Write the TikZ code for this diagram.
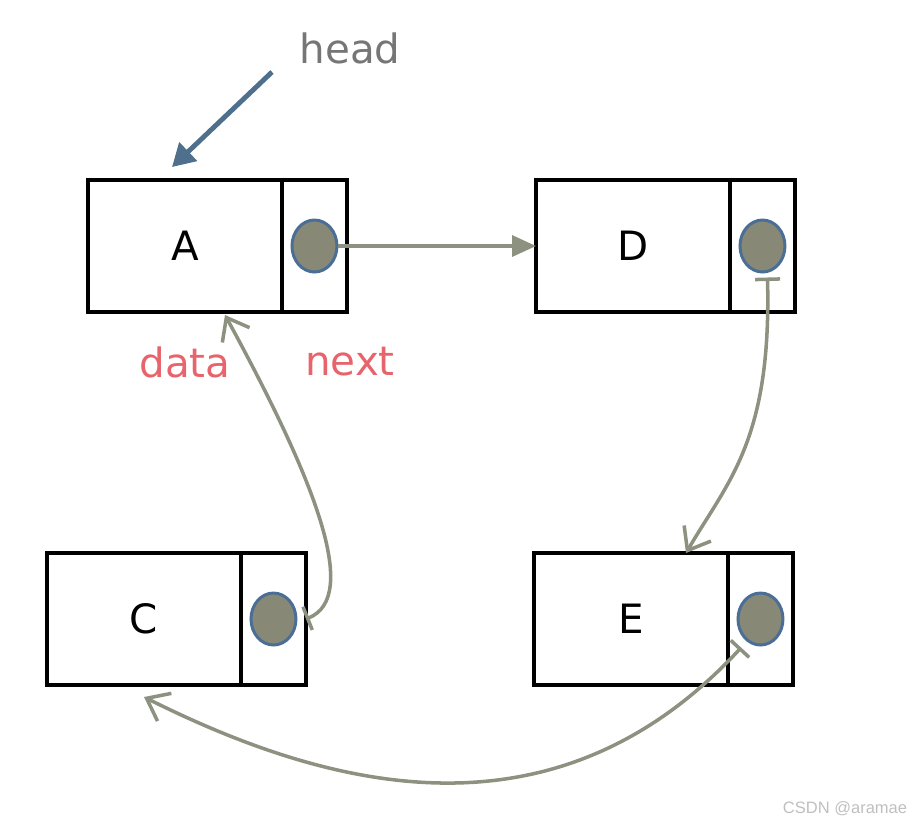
\documentclass[tikz,border=0pt]{standalone}
\usepackage{fontspec}
\setmainfont{DejaVu Sans}
\newfontfamily\wmfont{Liberation Sans}
\usepackage{xcolor}
\usetikzlibrary{arrows.meta, positioning, shapes.geometric}

\definecolor{linkgray}{RGB}{140,145,128}
\definecolor{ptrfill}{RGB}{135,136,118}
\definecolor{ptrblue}{RGB}{74,110,150}
\definecolor{headblue}{RGB}{79,112,140}
\definecolor{headgray}{RGB}{118,118,118}
\definecolor{fieldred}{RGB}{232,100,108}

\begin{document}
\begin{tikzpicture}[
  x=0.02cm, y=-0.02cm,
  datacell/.style={rectangle, draw, line width=2pt, outer sep=0pt, inner sep=0pt, minimum width=3.88cm, minimum height=2.64cm, font=\fontsize{23}{28}\selectfont},
  nextcell/.style={datacell, minimum width=1.3cm},
  ptr/.style={ellipse, draw=ptrblue, fill=ptrfill, line width=1.7pt, inner sep=0pt, minimum width=0.9cm, minimum height=1.04cm},
  link/.style={draw=linkgray, line width=2pt, {Bar[width=0.5cm]}-{Straight Barb[length=0.4cm,width=0.62cm]}},
  headarrow/.style={draw=headblue, line width=2.8pt, -{Triangle[length=0.45cm,width=0.5cm]}},
  tag/.style={font=\fontsize{23}{28}\selectfont, text=fieldred},
]
  \useasboundingbox (0,0) rectangle (911,823);

  \node[datacell] (A) at (185,246) {A};
  \node[nextcell, right=0pt of A] (Anext) {};
  \node[ptr] (Aptr) at (Anext) {};

  \node[datacell] (D) at (633,246) {D};
  \node[nextcell, right=0pt of D] (Dnext) {};
  \node[ptr] (Dptr) at (Dnext) {};

  \node[datacell] (C) at (144,619) {C};
  \node[nextcell, right=0pt of C] (Cnext) {};
  \node[ptr] (Cptr) at (Cnext) {};

  \node[datacell] (E) at (631,619) {E};
  \node[nextcell, right=0pt of E] (Enext) {};
  \node[ptr] (Eptr) at (Enext) {};

  \node[font=\fontsize{23}{28}\selectfont, text=headgray] (head) at (350,48) {head};
  \node[tag] (data) at (185,362) {data};
  \node[tag] (next) at (350,362) {next};
  \node[font=\wmfont\fontsize{9.4}{11}\selectfont, text=black!25] (wm) at (845,809) {CSDN @aramae};

  \coordinate (hstart) at (272,72);
  \draw[headarrow] (hstart) -- ([xshift=-0.26cm,yshift=0.26cm]A.north);

  \draw[draw=linkgray, line width=2pt, -{Triangle[length=0.48cm,width=0.42cm]}] (Aptr) -- (D);
  \draw[link] ([xshift=0.1cm,yshift=-0.08cm]Dptr.south) .. controls +(4,163) and +(42,-72) .. ([xshift=1.1cm]E.north);
  \draw[link] ([xshift=-0.1cm,yshift=-0.13cm]Eptr.-123) .. controls +(-186,201) and +(186,93) .. ([yshift=-0.24cm]C.south);
  \draw[link] (Cnext.east) .. controls +(55,-22) and +(90,165) .. ([xshift=0.8cm,yshift=-0.06cm]A.south);
\end{tikzpicture}
\end{document}
